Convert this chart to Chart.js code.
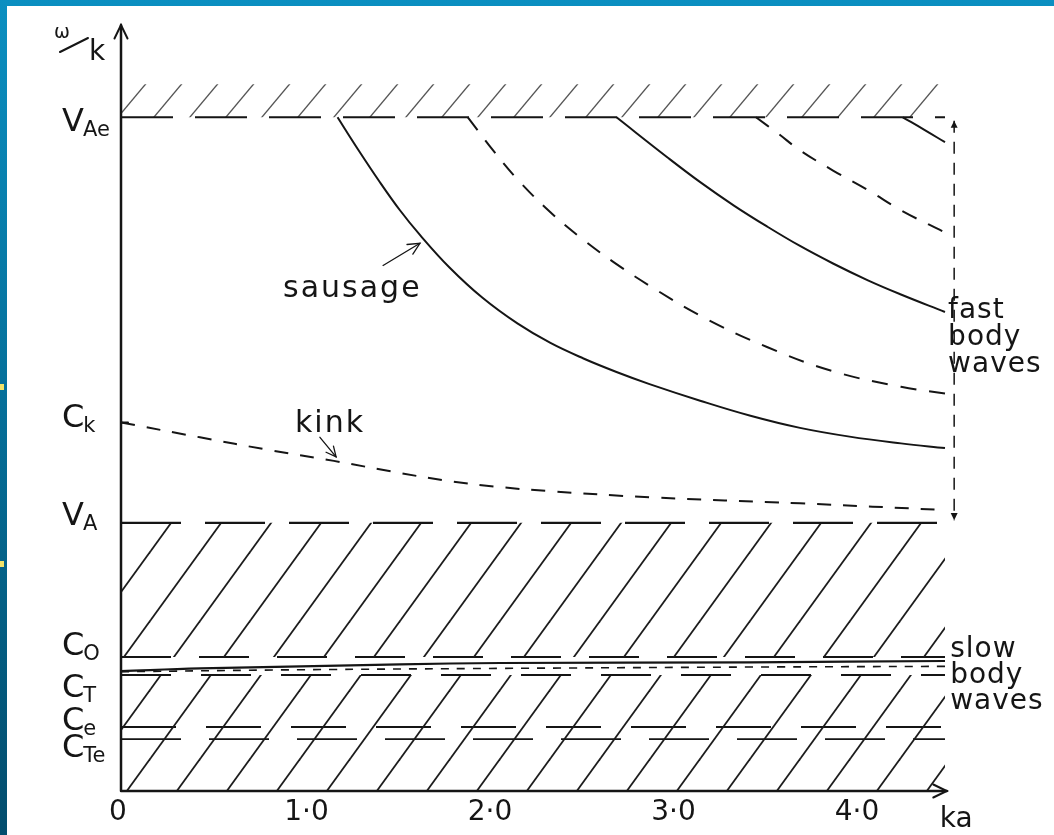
<!DOCTYPE html>
<html>
<head>
<meta charset="utf-8">
<script src="https://cdn.jsdelivr.net/npm/chart.js@4.4.1/dist/chart.umd.min.js"></script>
<style>
  html, body { margin: 0; padding: 0; }
  .frame { position: absolute; left: 0; top: 0; width: 1054px; height: 835px; overflow: hidden;
           background: linear-gradient(to bottom, #0b8fc1 0%, #05719c 45%, #034d6d 100%); }
  .paper { position: absolute; left: 7px; top: 6px; right: 0; bottom: 0; background: #fff; }
  .dot { position: absolute; left: 0; width: 4px; height: 6px; background: #f2e36a; }
  canvas { position: absolute; left: 0; top: 0; }
</style>
</head>
<body>
<div class="frame">
  <div class="paper"></div>
  <div class="dot" style="top:384px"></div>
  <div class="dot" style="top:561px"></div>
  <canvas id="chart" width="1054" height="835"></canvas>
</div>
<script>
// axis ticks
const xTickValues = [0, 1, 2, 3, 4];
const xTickLabels = ['0', '1·0', '2·0', '3·0', '4·0'];

// characteristic speeds on the w/k axis (V_Ae = 1)
const levelMain = ['V', 'C', 'V', 'C', 'C', 'C', 'C'];
const levelSub = ['Ae', 'k', 'A', 'O', 'T', 'e', 'Te'];
const levelValues = [1.0, 0.547, 0.398, 0.199, 0.172, 0.095, 0.077];

const kaEnd = 4.49;
const bracketX = 4.54;
const topHatch = 1.049;

// fast body waves, sausage (solid)
const sausage1X = [1.18, 1.29, 1.41, 1.52, 1.63, 1.79, 1.97, 2.16, 2.34, 2.52, 2.70, 2.88, 3.16, 3.43, 3.70, 3.97, 4.25, 4.49];
const sausage1Y = [1.0, 0.953, 0.904, 0.862, 0.825, 0.777, 0.732, 0.694, 0.665, 0.642, 0.622, 0.604, 0.579, 0.557, 0.539, 0.526, 0.516, 0.509];
const sausage2X = [2.70, 2.98, 3.16, 3.34, 3.52, 3.70, 3.88, 4.07, 4.25, 4.49];
const sausage2Y = [1.0, 0.940, 0.903, 0.869, 0.838, 0.809, 0.783, 0.758, 0.737, 0.711];
const sausage3X = [4.26, 4.38, 4.49];
const sausage3Y = [1.0, 0.981, 0.963];

// fast body waves, kink (dashed)
const kink1X = [1.89, 2.03, 2.16, 2.34, 2.52, 2.69, 2.88, 3.16, 3.52, 3.88, 4.25, 4.49];
const kink1Y = [1.0, 0.950, 0.908, 0.859, 0.818, 0.784, 0.750, 0.705, 0.659, 0.623, 0.600, 0.590];
const kink2X = [3.46, 3.58, 3.70, 3.88, 4.07, 4.25, 4.49];
const kink2Y = [1.0, 0.976, 0.951, 0.921, 0.892, 0.862, 0.829];
const kinkX = [0, 0.43, 0.81, 1.16, 1.52, 1.79, 2.07, 2.34, 2.88, 3.70, 4.49];
const kinkY = [0.547, 0.525, 0.506, 0.490, 0.472, 0.460, 0.451, 0.445, 0.436, 0.427, 0.417];

// slow body waves
const slowSausageX = [0, 0.43, 0.98, 1.52, 2.07, 3.43, 4.49];
const slowSausageY = [0.178, 0.182, 0.185, 0.188, 0.190, 0.191, 0.193];
const slowKinkX = [0, 0.98, 2.07, 3.43, 4.49];
const slowKinkY = [0.177, 0.180, 0.182, 0.184, 0.185];

const FONT = '"DejaVu Sans", sans-serif';
const INK = '#151515';

function pts(xs, ys) {
  return xs.map((x, i) => ({ x: x, y: ys[i] }));
}
function flat(v) {
  return [{ x: 0, y: v }, { x: kaEnd, y: v }];
}

function hatch(spacing, slope, width, color) {
  const c = document.createElement('canvas');
  const w = spacing, h = Math.round(spacing * slope);
  c.width = w; c.height = h;
  const g = c.getContext('2d');
  g.strokeStyle = color;
  g.lineWidth = width;
  for (let k = -1; k <= 1; k++) {
    g.beginPath();
    g.moveTo(k * w - w, 2 * h);
    g.lineTo(k * w + 2 * w, -h);
    g.stroke();
  }
  return g.createPattern(c, 'repeat');
}

const bandHatch = hatch(50, 1.38, 1.8, '#1c1c1c');
const topHatchPattern = hatch(36, 1.2, 1.4, '#555');

function boundary(v, dash, fill, bg, width) {
  return {
    data: flat(v), borderColor: INK, borderWidth: width || 2, borderDash: dash,
    fill: fill, backgroundColor: bg || 'transparent', pointRadius: 0
  };
}
function curve(xs, ys, dash, width) {
  return {
    data: pts(xs, ys), borderColor: INK, borderWidth: width || 2, borderDash: dash || [],
    fill: false, pointRadius: 0, tension: 0.4
  };
}

const datasets = [
  boundary(levelValues[0], [52, 22], { value: topHatch }, topHatchPattern),
  boundary(levelValues[2], [60, 24], '+1', bandHatch, 2.4),
  boundary(levelValues[3], [50, 28], false),
  boundary(levelValues[4], [50, 30], { value: 0 }, bandHatch),
  boundary(levelValues[5], [55, 30], false, null, 1.8),
  boundary(levelValues[6], [60, 28], false, null, 1.8),
  curve(sausage1X, sausage1Y),
  curve(sausage2X, sausage2Y),
  curve(sausage3X, sausage3Y),
  curve(kink1X, kink1Y, [16, 13]),
  curve(kink2X, kink2Y, [16, 13]),
  curve(kinkX, kinkY, [14, 12]),
  curve(slowSausageX, slowSausageY, [], 2.2),
  curve(slowKinkX, slowKinkY, [8, 8], 1.6),
  {
    data: [{ x: bracketX, y: 0.995 }, { x: bracketX, y: 0.402 }],
    borderColor: INK, borderWidth: 1.5, borderDash: [12, 9], pointRadius: 0, fill: false
  }
];

function arrowHead(ctx, x1, y1, x2, y2, len, open) {
  const a = Math.atan2(y2 - y1, x2 - x1);
  ctx.beginPath();
  ctx.moveTo(x2 - len * Math.cos(a - 0.45), y2 - len * Math.sin(a - 0.45));
  ctx.lineTo(x2, y2);
  ctx.lineTo(x2 - len * Math.cos(a + 0.45), y2 - len * Math.sin(a + 0.45));
  if (open) { ctx.stroke(); } else { ctx.closePath(); ctx.fill(); }
}

const annotate = {
  id: 'annotate',
  afterDraw(chart, args, opts) {
    const { ctx, scales: { x, y } } = chart;
    const px = v => x.getPixelForValue(v);
    const py = v => y.getPixelForValue(v);
    const x0 = px(0), y0 = py(0);
    ctx.save();
    ctx.strokeStyle = INK;
    ctx.fillStyle = INK;
    ctx.lineCap = 'round';

    // axes with arrows
    ctx.lineWidth = 2.5;
    ctx.beginPath();
    ctx.moveTo(x0, y0); ctx.lineTo(x0, py(y.max));
    ctx.moveTo(x0, y0); ctx.lineTo(px(4.5), y0);
    ctx.stroke();
    ctx.lineWidth = 2;
    arrowHead(ctx, x0, y0, x0, py(y.max), 15, true);
    arrowHead(ctx, x0, y0, px(4.5), y0, 15, true);

    // small tick at C_k
    ctx.beginPath();
    ctx.moveTo(x0, py(levelValues[1])); ctx.lineTo(x0 + 7, py(levelValues[1]));
    ctx.stroke();

    // bracket arrow heads
    arrowHead(ctx, px(bracketX), py(0.95), px(bracketX), py(0.995), 8, false);
    arrowHead(ctx, px(bracketX), py(0.45), px(bracketX), py(0.402), 8, false);

    // y level labels with subscripts
    ctx.textAlign = 'left';
    ctx.textBaseline = 'alphabetic';
    levelValues.forEach((v, i) => {
      const base = py(v) + opts.labelDy[i];
      ctx.font = '32px ' + FONT;
      ctx.fillText(levelMain[i], 62, base);
      const w = ctx.measureText(levelMain[i]).width;
      ctx.font = '21px ' + FONT;
      ctx.fillText(levelSub[i], 62 + w - 1, base + 5);
    });

    // x tick labels
    ctx.font = '28px ' + FONT;
    ctx.textAlign = 'center';
    xTickValues.forEach((v, i) => {
      ctx.fillText(xTickLabels[i], px(v) + (i === 0 ? -3 : 2), y0 + 29);
    });
    ctx.textAlign = 'left';
    ctx.fillText('ka', px(4.5) - 7, y0 + 36);

    // omega / k
    ctx.font = '19px ' + FONT;
    ctx.fillText('ω', 54, 38);
    ctx.lineWidth = 2;
    ctx.beginPath(); ctx.moveTo(60, 52); ctx.lineTo(88, 38); ctx.stroke();
    ctx.font = '28px ' + FONT;
    ctx.fillText('k', 89, 60);

    // curve labels
    ctx.font = '30px ' + FONT;
    ctx.letterSpacing = '2px';
    ctx.fillText('sausage', px(0.883), py(0.733));
    ctx.fillText('kink', px(0.948), py(0.533));
    ctx.letterSpacing = '0px';
    ctx.lineWidth = 1.3;
    ctx.beginPath();
    ctx.moveTo(px(1.428), py(0.780)); ctx.lineTo(px(1.629), py(0.813));
    ctx.moveTo(px(1.084), py(0.525)); ctx.lineTo(px(1.172), py(0.496));
    ctx.stroke();
    arrowHead(ctx, px(1.428), py(0.780), px(1.629), py(0.813), 13, true);
    arrowHead(ctx, px(1.084), py(0.525), px(1.172), py(0.496), 11, true);

    ctx.font = '28px ' + FONT;
    ctx.letterSpacing = '1px';
    ['fast', 'body', 'waves'].forEach((t, i) => {
      ctx.fillText(t, px(4.507), py(0.702) + i * 27);
    });
    ['slow', 'body', 'waves'].forEach((t, i) => {
      ctx.fillText(t, px(4.518), py(0.199) + i * 26);
    });
    ctx.restore();
  }
};

new Chart(document.getElementById('chart'), {
  type: 'line',
  data: { datasets: datasets },
  plugins: [annotate],
  options: {
    responsive: false,
    animation: false,
    devicePixelRatio: 1,
    layout: { padding: { left: 121, right: 98, top: 25, bottom: 44 } },
    scales: {
      x: { type: 'linear', min: 0, max: 4.55, display: false },
      y: { type: 'linear', min: 0, max: 1.137, display: false }
    },
    plugins: {
      legend: { display: false },
      tooltip: { enabled: false },
      annotate: { labelDy: [14, 5, 2, -2, 22, 3, 18] }
    }
  }
});
</script>
</body>
</html>
